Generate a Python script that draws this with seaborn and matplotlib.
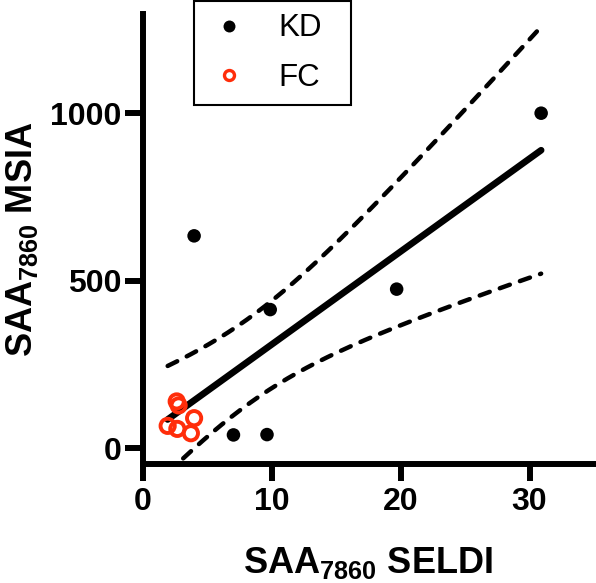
import matplotlib.pyplot as plt
import numpy as np
import pandas as pd
import seaborn as sns
from matplotlib.lines import Line2D

# Values
kd_seldi = [4.0, 7.05, 9.65, 9.9, 19.7, 30.9]
kd_msia = [634, 40, 41, 414, 475, 1000]
fc_seldi = [1.95, 2.65, 2.7, 2.8, 3.75, 4.0]
fc_msia = [67, 140, 58, 128, 45, 90]
group_names = ["KD", "FC"]
x_ticks = [0, 10, 20, 30]
y_ticks = [0, 500, 1000]

data = pd.DataFrame({
    "seldi": kd_seldi + fc_seldi,
    "msia": kd_msia + fc_msia,
    "group": ["KD"] * len(kd_seldi) + ["FC"] * len(fc_seldi),
})

# Linear fit over all samples plus its 95% confidence band
x = data["seldi"].to_numpy(dtype=float)
y = data["msia"].to_numpy(dtype=float)
slope, intercept = np.polyfit(x, y, 1)
n = len(x)
resid = y - (intercept + slope * x)
s = np.sqrt((resid ** 2).sum() / (n - 2))
t_crit = 2.228  # two-sided 95%, df = 10
xs = np.linspace(x.min(), x.max(), 200)
fit = intercept + slope * xs
se = s * np.sqrt(1 / n + (xs - x.mean()) ** 2 / ((x - x.mean()) ** 2).sum())
band = pd.DataFrame({"x": xs, "fit": fit,
                     "upper": fit + t_crit * se, "lower": fit - t_crit * se})

sns.set_style("ticks")
plt.rcParams["font.family"] = ["Liberation Sans", "DejaVu Sans"]
plt.rcParams["mathtext.fontset"] = "custom"
plt.rcParams["mathtext.rm"] = "Liberation Sans"
plt.rcParams["mathtext.bf"] = "Liberation Sans:bold"
for key in ["axes.edgecolor", "axes.labelcolor", "text.color",
            "xtick.color", "ytick.color"]:
    plt.rcParams[key] = "black"

red = "#FF2D0A"
fig = plt.figure(figsize=(5.96, 5.83), dpi=100)
ax = fig.add_axes([0.2391, 0.2034, 0.7576, 0.7726])

# fit line and dashed confidence curves
sns.lineplot(data=band, x="x", y="fit", color="black", lw=4.8,
             solid_capstyle="round", ax=ax)
for col in ["upper", "lower"]:
    sns.lineplot(data=band, x="x", y=col, color="black", lw=3.2,
                 linestyle=(0, (2.4, 2.4)), dash_capstyle="round", ax=ax)

# points
sns.scatterplot(data=data[data["group"] == "KD"], x="seldi", y="msia",
                color="black", s=95, edgecolor="none", zorder=5, ax=ax)
sns.scatterplot(data=data[data["group"] == "FC"], x="seldi", y="msia",
                facecolor="none", edgecolor=red, linewidth=2.8, s=105,
                zorder=6, ax=ax)

ax.set_xlim(0, 35)
ax.set_ylim(-48, 1296)
ax.set_xticks(x_ticks)
ax.set_yticks(y_ticks)
sns.despine(ax=ax)
for side in ["left", "bottom"]:
    ax.spines[side].set_linewidth(4.3)
ax.tick_params(axis="both", width=4.3, color="black", labelcolor="black",
               labelsize=23)
ax.tick_params(axis="x", length=12.5, pad=4)
ax.tick_params(axis="y", length=13, pad=2)
for lab in ax.get_xticklabels() + ax.get_yticklabels():
    lab.set_fontweight("bold")

ax.set_xlabel(r"$\mathbf{SAA_{7860}}$ SELDI", fontsize=26, fontweight="bold")
ax.set_ylabel(r"$\mathbf{SAA_{7860}}$ MSIA", fontsize=26, fontweight="bold")
ax.xaxis.set_label_coords(0.5, -0.178)
ax.yaxis.set_label_coords(-0.228, 0.5)

handles = [
    Line2D([], [], ls="none", marker="o", ms=8.6, color="black", mec="none"),
    Line2D([], [], ls="none", marker="o", ms=7.2, mfc="none", mec=red, mew=2.4),
]
leg = ax.legend(handles, group_names, loc="upper left",
                bbox_to_anchor=(194 / 596, 1 - 97.7 / 583, 156.5 / 596, 96.7 / 583),
                bbox_transform=fig.transFigure, mode="expand",
                fontsize=22.5, frameon=True, fancybox=False, borderpad=0.4,
                handlelength=1.43, handletextpad=0.88, labelspacing=0.62,
                borderaxespad=0)
leg.get_frame().set_edgecolor("black")
leg.get_frame().set_linewidth(1.5)
leg.get_frame().set_alpha(None)

fig.savefig("out.png", dpi=100)
